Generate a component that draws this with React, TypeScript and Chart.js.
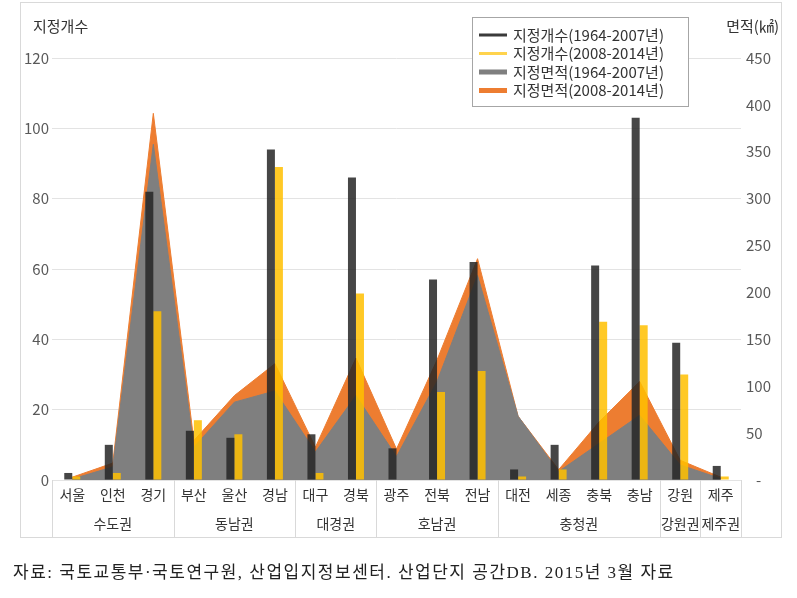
import React, { useEffect, useRef } from "react";
import { Chart, registerables } from "chart.js";

Chart.register(...registerables);

const categories = ["서울", "인천", "경기", "부산", "울산", "경남", "대구", "경북", "광주", "전북", "전남", "대전", "세종", "충북", "충남", "강원", "제주"];
const regionGroups = ["수도권", "동남권", "대경권", "호남권", "충청권", "강원권", "제주권"];
const regionSizes = [3, 3, 2, 3, 4, 1, 1];

const seriesLabels = ["지정개수(1964-2007년)", "지정개수(2008-2014년)", "지정면적(1964-2007년)", "지정면적(2008-2014년)"];

// 지정개수 (left axis)
const countOld = [2, 10, 82, 14, 12, 94, 13, 86, 9, 57, 62, 3, 10, 61, 103, 39, 4];
const countNew = [1, 2, 48, 17, 13, 89, 2, 53, 0, 25, 31, 1, 3, 45, 44, 30, 1];

// 지정면적 (right axis, ㎢)
const areaOld = [1, 14, 358, 35, 83, 95, 30, 90, 25, 105, 218, 68, 9, 39, 69, 16, 1.5];
const areaNew = [2, 4, 33, 7, 7, 29, 5, 40, 8, 23, 18, 0, 2, 23, 36, 5, 1.5];

const leftAxisTitle = "지정개수";
const rightAxisTitle = "면적(㎢)";
const caption = "자료: 국토교통부·국토연구원, 산업입지정보센터. 산업단지 공간DB. 2015년 3월 자료";

const FONT = '"Noto Sans CJK KR", "Noto Sans", sans-serif';
const COLORS = {
  dark: "rgba(38,38,38,0.85)",
  yellow: "rgba(255,192,0,0.85)",
  gray: "#7f7f7f",
  orange: "#ed7d31",
};

const decorPlugin = {
  id: "decor",
  afterDraw(chart: any) {
    const ctx = chart.ctx;
    const x = chart.scales.x;
    const area = chart.chartArea;
    const half = (x.getPixelForValue(1) - x.getPixelForValue(0)) / 2;
    const tableBottom = 537.5;
    ctx.save();
    // outer frame
    ctx.strokeStyle = "#d9d9d9";
    ctx.lineWidth = 1;
    ctx.strokeRect(20.5, 2.5, 761, 535);
    // category table separators
    ctx.beginPath();
    let start = 0;
    const bounds: number[] = [Math.round(area.left) + 0.5];
    regionSizes.forEach((n) => {
      start += n;
      bounds.push(Math.round(x.getPixelForValue(start - 1) + half) + 0.5);
    });
    bounds.forEach((bx) => {
      ctx.moveTo(bx, area.bottom);
      ctx.lineTo(bx, tableBottom);
    });
    ctx.stroke();
    // group labels
    ctx.fillStyle = "#333333";
    ctx.font = `14px ${FONT}`;
    ctx.textAlign = "center";
    ctx.textBaseline = "middle";
    start = 0;
    regionGroups.forEach((g, i) => {
      const a = x.getPixelForValue(start);
      const b = x.getPixelForValue(start + regionSizes[i] - 1);
      ctx.fillText(g, (a + b) / 2, 524);
      start += regionSizes[i];
    });
    // axis titles
    ctx.font = `15px ${FONT}`;
    ctx.textAlign = "left";
    ctx.fillStyle = "#333333";
    ctx.fillText(leftAxisTitle, 33, 26);
    ctx.textAlign = "right";
    ctx.fillText(rightAxisTitle, 779, 26);
    // legend
    ctx.fillStyle = "#ffffff";
    ctx.fillRect(472, 17, 217, 90);
    ctx.strokeStyle = "#a6a6a6";
    ctx.strokeRect(472.5, 17.5, 216, 89);
    const items = [
      { c: "#3a3a3a", h: 3 },
      { c: "#ffd34d", h: 3 },
      { c: COLORS.gray, h: 5 },
      { c: COLORS.orange, h: 5 },
    ];
    ctx.textAlign = "left";
    ctx.font = `15px ${FONT}`;
    items.forEach((it, i) => {
      const cy = 35 + i * 18.5;
      ctx.fillStyle = it.c;
      ctx.fillRect(479, cy - it.h / 2, 28, it.h);
      ctx.fillStyle = "#333333";
      ctx.fillText(seriesLabels[i], 513, cy);
    });
    ctx.restore();
  },
};

export default function App() {
  const ref = useRef<HTMLCanvasElement | null>(null);
  useEffect(() => {
    if (!ref.current) return;
    const totalArea = areaOld.map((v, i) => v + areaNew[i]);
    const chart = new Chart(ref.current, {
      type: "bar",
      data: {
        labels: categories,
        datasets: [
          {
            type: "bar",
            label: seriesLabels[0],
            data: countOld,
            backgroundColor: COLORS.dark,
            yAxisID: "y",
            order: 0,
            barPercentage: 1,
            categoryPercentage: 0.395,
          },
          {
            type: "bar",
            label: seriesLabels[1],
            data: countNew,
            backgroundColor: COLORS.yellow,
            yAxisID: "y",
            order: 0,
            barPercentage: 1,
            categoryPercentage: 0.395,
          },
          {
            type: "line",
            label: seriesLabels[2],
            data: areaOld,
            yAxisID: "y1",
            borderColor: COLORS.gray,
            borderWidth: 1,
            backgroundColor: COLORS.gray,
            fill: "origin",
            pointRadius: 0,
            tension: 0,
            order: 1,
          },
          {
            type: "line",
            label: seriesLabels[3],
            data: totalArea,
            yAxisID: "y1",
            borderColor: COLORS.orange,
            borderWidth: 1,
            backgroundColor: COLORS.orange,
            fill: "origin",
            pointRadius: 0,
            tension: 0,
            order: 2,
          },
        ] as any,
      },
      options: {
        responsive: false,
        maintainAspectRatio: false,
        animation: false,
        layout: { padding: { left: 20, right: 15, top: 58, bottom: 60 } },
        plugins: { legend: { display: false }, tooltip: { enabled: false } },
        scales: {
          x: {
            grid: { display: false, drawTicks: false },
            border: { display: false },
            ticks: { font: { family: FONT, size: 14 }, color: "#333333", padding: 6, maxRotation: 0, autoSkip: false },
            afterFit: (s: any) => {
              s.height = 58;
            },
          },
          y: {
            position: "left",
            min: 0,
            max: 120,
            ticks: { stepSize: 20, font: { family: FONT, size: 15 }, color: "#595959", padding: 3 },
            grid: { color: "#e3e3e3", drawTicks: false },
            border: { display: false },
            afterFit: (s: any) => {
              s.width = 32;
            },
          },
          y1: {
            position: "right",
            min: 0,
            max: 450,
            ticks: {
              stepSize: 50,
              font: { family: FONT, size: 15 },
              color: "#595959",
              padding: 5,
              callback: (v: any) => (v === 0 ? "   -" : String(v)),
            },
            grid: { display: false, drawTicks: false },
            border: { display: false },
            afterFit: (s: any) => {
              s.width = 41;
            },
          },
        } as any,
      },
      plugins: [decorPlugin],
    });
    return () => chart.destroy();
  }, []);

  return (
    <div style={{ position: "fixed", left: 0, top: 0, width: 797, height: 598, background: "#fff" }}>
      <canvas ref={ref} width={797} height={598} style={{ display: "block", width: 797, height: 598 }} />
      <div
        style={{
          position: "absolute",
          left: 13,
          top: 562,
          fontSize: 17,
          lineHeight: "22px",
          letterSpacing: "1.5px",
          whiteSpace: "nowrap",
          color: "#222",
          fontFamily: '"Liberation Serif", "Noto Sans CJK KR", serif',
        }}
      >
        {caption}
      </div>
    </div>
  );
}
